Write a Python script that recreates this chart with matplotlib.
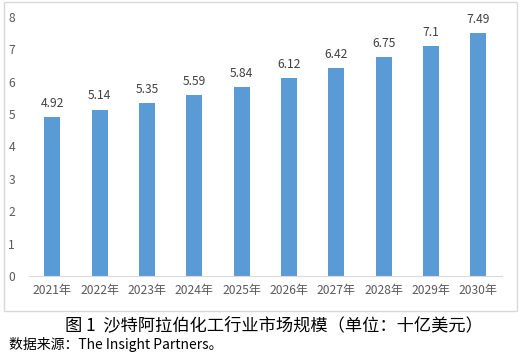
import matplotlib.pyplot as plt
from matplotlib.patches import Rectangle

plt.rcParams['font.family'] = ['Noto Sans CJK SC', 'DejaVu Sans']

years = ['2021年', '2022年', '2023年', '2024年', '2025年',
         '2026年', '2027年', '2028年', '2029年', '2030年']
values = [4.92, 5.14, 5.35, 5.59, 5.84, 6.12, 6.42, 6.75, 7.1, 7.49]
labels = ['4.92', '5.14', '5.35', '5.59', '5.84', '6.12', '6.42', '6.75', '7.1', '7.49']

fig = plt.figure(figsize=(5.23, 3.54), dpi=100)
ax = fig.add_axes([0.055, 0.2203, 0.905, 0.732])

x = range(len(years))
ax.bar(x, values, width=0.34, color='#5b9bd5')
for i, v in enumerate(values):
    ax.text(i, v + 0.22, labels[i], ha='center', va='bottom', fontsize=8.7, color='#404040')

ax.set_xlim(-0.5, len(years) - 0.5)
ax.set_ylim(0, 8)
ax.set_yticks(range(0, 9))
ax.set_xticks(list(x))
ax.set_xticklabels(years)
ax.tick_params(axis='both', length=0, labelsize=8.7, colors='#595959')
ax.tick_params(axis='y', pad=10)
ax.tick_params(axis='x', pad=6)
for s in ['top', 'right', 'left']:
    ax.spines[s].set_visible(False)
ax.spines['bottom'].set_color('#d9d9d9')

# chart border
fig.patches.append(Rectangle((0.0076, 0.1215), 0.981, 0.8725, transform=fig.transFigure,
                             fill=False, edgecolor='#d9d9d9', linewidth=1))

fig.text(0.523, 0.082, '图 1  沙特阿拉伯化工行业市场规模（单位：十亿美元）', ha='center', va='center',
         fontsize=12.4, fontweight='medium', color='#000000')
fig.text(0.018, 0.028, '数据来源：The Insight Partners。', ha='left', va='center',
         fontsize=10, color='#000000')

fig.savefig('out.png', dpi=100)
